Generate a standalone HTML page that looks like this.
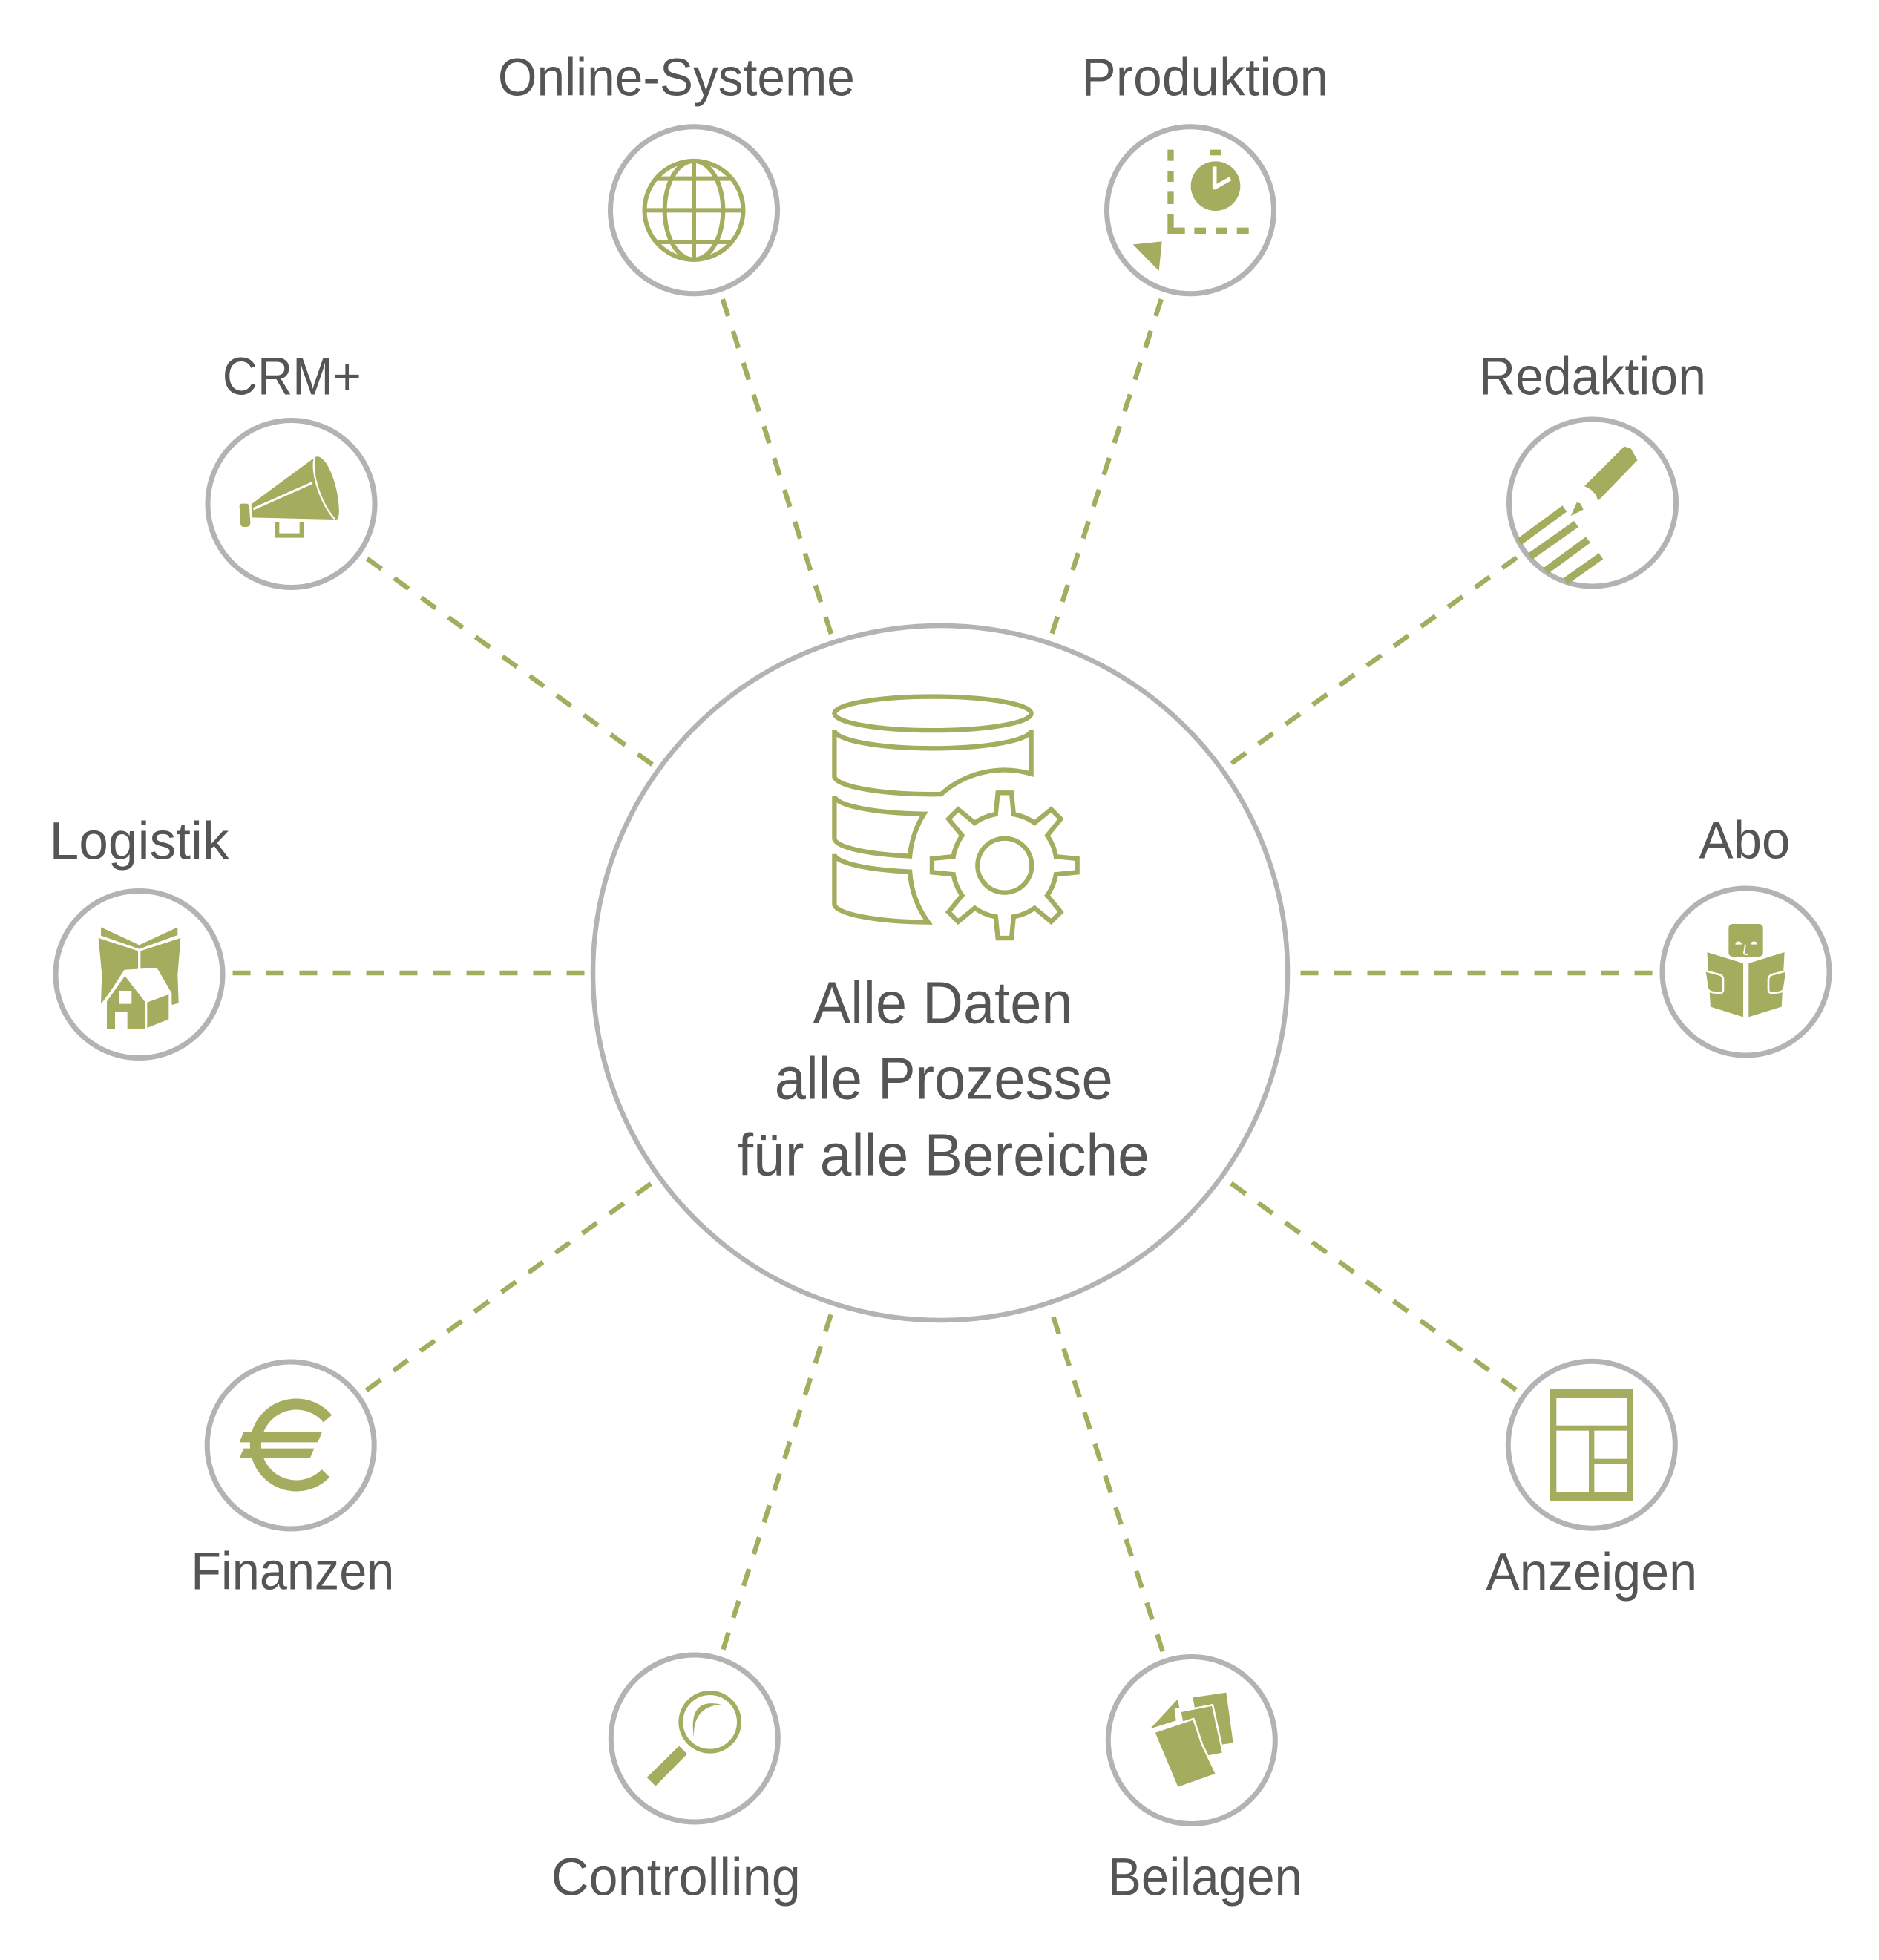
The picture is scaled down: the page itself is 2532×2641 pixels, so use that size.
<!DOCTYPE html>
<html>
<head>
<meta charset="utf-8">
<style>
  html,body{margin:0;padding:0;background:#fff;}
  svg{display:block;}
  text{font-family:"Liberation Sans", Arial, sans-serif; fill:#555555;}
</style>
</head>
<body>
<svg xmlns="http://www.w3.org/2000/svg" width="2532" height="2641" viewBox="0 0 2532 2641">
<rect x="0" y="0" width="2532" height="2641" fill="#ffffff"/>

<!-- dashed connectors -->
<g stroke="#a4ac5e" stroke-width="6.5" stroke-dasharray="24 21" fill="none">
  <line x1="973.8" y1="403.2" x2="1123.1" y2="863.9"/>
  <line x1="1564.8" y1="403.1" x2="1414.1" y2="864.3"/>
  <line x1="494.7" y1="752.7" x2="886.9" y2="1035.9"/>
  <line x1="2043.8" y1="751.2" x2="1649.1" y2="1036"/>
  <line x1="313.5" y1="1311" x2="798" y2="1311"/>
  <line x1="2226.5" y1="1311" x2="1738" y2="1311"/>
  <line x1="493.6" y1="1873.4" x2="887.7" y2="1587.2"/>
  <line x1="2042.8" y1="1872.7" x2="1648.5" y2="1586.9"/>
  <line x1="974.4" y1="2222.6" x2="1123.9" y2="1758.3"/>
  <line x1="1566.7" y1="2225.2" x2="1413.9" y2="1757.7"/>
</g>

<!-- main circle -->
<circle cx="1267" cy="1311" r="468" fill="#ffffff" stroke="#b3b3b3" stroke-width="6.5"/>

<!-- satellite circles -->
<g fill="#ffffff" stroke="#b3b3b3" stroke-width="7">
  <circle cx="935" cy="283.3" r="112.5"/>
  <circle cx="1604" cy="283.3" r="112.5"/>
  <circle cx="392.5" cy="679" r="112.5"/>
  <circle cx="2146" cy="677.5" r="112.5"/>
  <circle cx="187.5" cy="1313" r="112.5"/>
  <circle cx="2352.5" cy="1309.5" r="112.5"/>
  <circle cx="391.7" cy="1947.5" r="112.5"/>
  <circle cx="2144.8" cy="1946.7" r="112.5"/>
  <circle cx="935.8" cy="2342.5" r="112.5"/>
  <circle cx="1605.8" cy="2345" r="112.5"/>
</g>

<!-- labels -->
<g font-size="71">
  <text x="911.4" y="128.3" text-anchor="middle" textLength="481" lengthAdjust="spacingAndGlyphs">Online-Systeme</text>
  <text x="1623.8" y="128.3" text-anchor="middle" textLength="333" lengthAdjust="spacingAndGlyphs">Produktion</text>
  <text x="393.3" y="531.7" text-anchor="middle" textLength="187" lengthAdjust="spacingAndGlyphs">CRM+</text>
  <text x="2146" y="531.7" text-anchor="middle" textLength="306" lengthAdjust="spacingAndGlyphs">Redaktion</text>
  <text x="187.5" y="1157.3" text-anchor="middle" textLength="242" lengthAdjust="spacingAndGlyphs">Logistik</text>
  <text x="2351" y="1156.7" text-anchor="middle" textLength="123" lengthAdjust="spacingAndGlyphs">Abo</text>
  <text x="394.3" y="2141.7" text-anchor="middle" textLength="274" lengthAdjust="spacingAndGlyphs">Finanzen</text>
  <text x="2144.7" y="2142.7" text-anchor="middle" textLength="285" lengthAdjust="spacingAndGlyphs">Anzeigen</text>
  <text x="910.8" y="2553.3" text-anchor="middle" textLength="336" lengthAdjust="spacingAndGlyphs">Controlling</text>
  <text x="1624" y="2553.3" text-anchor="middle" textLength="262" lengthAdjust="spacingAndGlyphs">Beilagen</text>
</g>

<!-- center text -->
<g font-size="80">
  <text x="1270.6" y="1378.7" text-anchor="middle" textLength="350" lengthAdjust="spacingAndGlyphs">Alle Daten</text>
  <text x="1271.7" y="1480.5" text-anchor="middle" textLength="456" lengthAdjust="spacingAndGlyphs">alle Prozesse</text>
  <text x="1271.3" y="1583.6" text-anchor="middle" textLength="555" lengthAdjust="spacingAndGlyphs">für alle Bereiche</text>
</g>

<!-- center icon: database + gear -->
<g transform="translate(700,800) scale(0.7015)">
  <g fill="none" stroke="#a4ac5e" stroke-width="9" stroke-linejoin="miter">
    <ellipse cx="794" cy="230" rx="189" ry="32.5"/>
    <path d="M605,262 A189,35 0 0 0 983,262 L983,346 A183,183 0 0 0 810,385 A189,35 0 0 1 605,352 Z"/>
    <path d="M605,388 A189,35 0 0 0 777,423 A183,183 0 0 0 750,504 A189,35 0 0 1 605,470 Z"/>
    <path d="M605,500 A189,35 0 0 0 750,534 A183,183 0 0 0 785,631 A189,35 0 0 1 605,595 Z"/>
  </g>
  <g transform="translate(932,522)">
    <g fill="#a4ac5e" stroke="#a4ac5e" stroke-width="18" stroke-linejoin="miter">
      <circle r="95.5"/>
      <polygon points="85,-14 135,-9 135,9 85,14"/>
      <polygon points="85,-14 135,-9 135,9 85,14" transform="rotate(45)"/>
      <polygon points="85,-14 135,-9 135,9 85,14" transform="rotate(90)"/>
      <polygon points="85,-14 135,-9 135,9 85,14" transform="rotate(135)"/>
      <polygon points="85,-14 135,-9 135,9 85,14" transform="rotate(180)"/>
      <polygon points="85,-14 135,-9 135,9 85,14" transform="rotate(225)"/>
      <polygon points="85,-14 135,-9 135,9 85,14" transform="rotate(270)"/>
      <polygon points="85,-14 135,-9 135,9 85,14" transform="rotate(315)"/>
    </g>
    <g fill="#ffffff" stroke="none">
      <circle r="95.5"/>
      <polygon points="85,-14 135,-9 135,9 85,14"/>
      <polygon points="85,-14 135,-9 135,9 85,14" transform="rotate(45)"/>
      <polygon points="85,-14 135,-9 135,9 85,14" transform="rotate(90)"/>
      <polygon points="85,-14 135,-9 135,9 85,14" transform="rotate(135)"/>
      <polygon points="85,-14 135,-9 135,9 85,14" transform="rotate(180)"/>
      <polygon points="85,-14 135,-9 135,9 85,14" transform="rotate(225)"/>
      <polygon points="85,-14 135,-9 135,9 85,14" transform="rotate(270)"/>
      <polygon points="85,-14 135,-9 135,9 85,14" transform="rotate(315)"/>
    </g>
    <circle r="52" fill="none" stroke="#a4ac5e" stroke-width="9"/>
  </g>
</g>

<!-- Online-Systeme: globe -->
<g transform="translate(650,40) scale(0.33333)" fill="none" stroke="#a4ac5e" stroke-width="18">
  <circle cx="855" cy="730" r="199.5"/>
  <ellipse cx="855" cy="730" rx="118" ry="199.5"/>
  <line x1="855" y1="530" x2="855" y2="930"/>
  <line x1="655" y1="730" x2="1055" y2="730"/>
  <line x1="700" y1="602" x2="1010" y2="602"/>
  <line x1="700" y1="858" x2="1010" y2="858"/>
</g>

<!-- Produktion -->
<g transform="translate(1400,40) scale(0.33333)" fill="#a4ac5e">
  <rect x="520" y="485" width="25" height="45"/>
  <rect x="520" y="570" width="25" height="45"/>
  <rect x="520" y="655" width="25" height="50"/>
  <path d="M520,745 H545 V800 H590 V825 H520 Z"/>
  <rect x="628" y="800" width="47" height="25"/>
  <rect x="715" y="800" width="47" height="25"/>
  <rect x="800" y="800" width="48" height="25"/>
  <rect x="693" y="485" width="42" height="23"/>
  <circle cx="714" cy="632" r="100"/>
  <path d="M710,553 V638 L774,602" stroke="#ffffff" stroke-width="17" fill="none" stroke-linejoin="round"/>
  <polygon points="380,868 497,856 485,975"/>
</g>

<!-- CRM+: megaphone -->
<g transform="translate(250,450) scale(0.33333)" fill="#a4ac5e">
  <path d="M266,688 L524,498 C565,478 615,600 620,700 C623,740 615,755 602,750 L268,742 Z"/>
  <path d="M522,500 C505,560 548,690 603,748" stroke="#ffffff" stroke-width="7" fill="none"/>
  <polygon points="272,703 512,597 514,606 276,712" fill="#ffffff"/>
  <path d="M218,694 Q218,686 228,686 L246,686 Q256,686 258,700 L262,764 Q262,778 248,780 L234,780 Q222,778 222,766 Z"/>
  <path d="M370,762 V815 H470 V762" fill="none" stroke="#a4ac5e" stroke-width="18"/>
</g>

<!-- Redaktion: pencil + lines -->
<g transform="translate(1960,450) scale(0.33333)" fill="#a4ac5e">
  <polygon points="525,615 686,455 712,462 740,510 580,675 572,650 550,628"/>
  <polygon points="470,735 495,680 510,686 521,710"/>
  <g stroke="#a4ac5e" stroke-width="30">
    <line x1="262" y1="840" x2="445" y2="706"/>
    <line x1="305" y1="900" x2="492" y2="768"/>
    <line x1="368" y1="958" x2="540" y2="832"/>
    <line x1="448" y1="1000" x2="592" y2="898"/>
  </g>
</g>

<!-- Logistik: map + house -->
<g transform="translate(40,1080) scale(0.33333)" fill="#a4ac5e">
  <polygon points="288,508 443,580 598,508 598,540 443,596 288,542"/>
  <polygon points="278,552 438,604 438,682 382,690 298,806 288,818 292,700"/>
  <polygon points="448,604 610,552 598,700 602,815 576,822 560,778 508,680 448,680"/>
  <polygon points="302,812 385,684 512,676 570,776 570,884 468,924 305,924" fill="#ffffff" stroke="#ffffff" stroke-width="8"/>
  <polygon points="312,808 385,705 465,808 465,918 312,918"/>
  <rect x="345" y="850" width="50" height="70" fill="#ffffff"/>
  <rect x="362" y="765" width="50" height="53" fill="#ffffff"/>
  <polygon points="475,812 562,780 562,880 475,915"/>
</g>

<!-- Abo: reader -->
<g transform="translate(2200,1080) scale(0.33333)" fill="#a4ac5e">
  <rect x="388" y="495" width="139" height="132" rx="16"/>
  <path d="M415,578 A13,13 0 0 1 441,578 Z" fill="#ffffff"/>
  <path d="M478,578 A13,13 0 0 1 504,578 Z" fill="#ffffff"/>
  <path d="M456,578 L450,612 Q451,620 468,618" stroke="#ffffff" stroke-width="6" fill="none"/>
  <polygon points="298,605 450,652 450,875 312,832" stroke="#ffffff" stroke-width="6"/>
  <polygon points="466,652 617,605 605,832 466,875" stroke="#ffffff" stroke-width="6"/>
  <path d="M292,688 Q290,684 300,686 L352,700 Q366,705 366,720 L366,760 Q366,774 350,774 L322,771 Q305,768 302,752 Z" stroke="#ffffff" stroke-width="8"/>
  <path d="M623,688 Q625,684 615,686 L563,700 Q549,705 549,720 L549,760 Q549,774 565,774 L593,771 Q610,768 613,752 Z" stroke="#ffffff" stroke-width="8"/>
</g>

<!-- Finanzen: euro -->
<g transform="translate(250,1800) scale(0.33333)" fill="#a4ac5e">
  <path d="M574.4,334.9 A165,165 0 1 0 566.7,555.6" fill="none" stroke="#a4ac5e" stroke-width="45"/>
  <polygon points="235,388 552,388 535,430 218,430"/>
  <polygon points="235,455 520,455 503,495 218,495"/>
</g>

<!-- Anzeigen: layout -->
<g transform="translate(1960,1780) scale(0.33333)">
  <rect x="387" y="273" width="336" height="454" fill="#a4ac5e"/>
  <g fill="#ffffff">
    <rect x="412" y="312" width="285" height="110"/>
    <rect x="412" y="443" width="131" height="247"/>
    <rect x="565" y="443" width="132" height="114"/>
    <rect x="565" y="578" width="132" height="112"/>
  </g>
</g>

<!-- Controlling: magnifier -->
<g transform="translate(700,2180) scale(0.33333)" fill="#a4ac5e">
  <circle cx="770" cy="421" r="118" fill="none" stroke="#a4ac5e" stroke-width="18"/>
  <path d="M815,350 Q680,320 705,482 Q700,360 815,350 Z"/>
  <polygon points="515,645 645,518 678,550 550,680"/>
</g>

<!-- Beilagen: papers -->
<g transform="translate(1440,2180) scale(0.33333)" fill="#a4ac5e" stroke-linejoin="round">
  <polygon points="502,322 637,302 665,505 540,525"/>
  <polygon points="450,378 582,352 625,548 493,574" stroke="#ffffff" stroke-width="8"/>
  <polygon points="345,462 505,408 540,512 598,632 440,688" stroke="#ffffff" stroke-width="8"/>
  <polygon points="330,448 440,330 448,362 428,368 434,415"/>
</g>

</svg>
</body>
</html>
